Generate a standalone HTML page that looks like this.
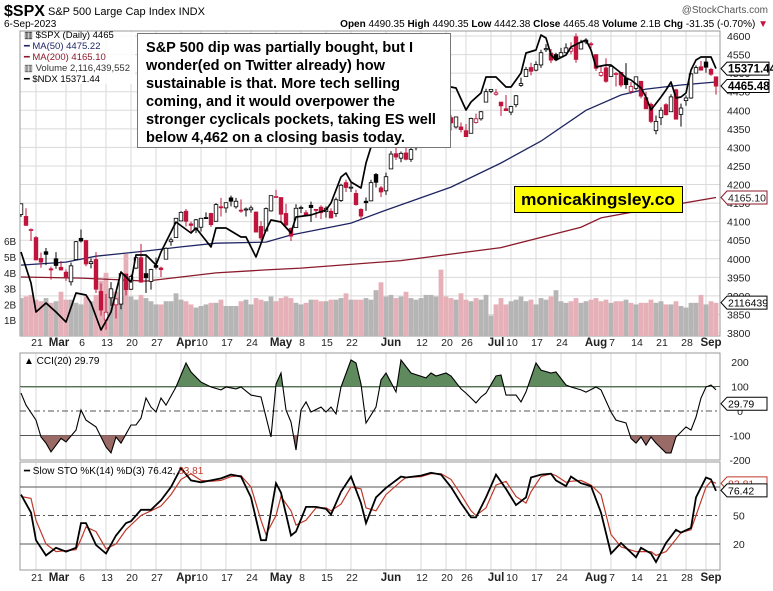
<!DOCTYPE html>
<html><head><meta charset="utf-8"><style>
body{margin:0;background:#fff;}
svg text{font-family:"Liberation Sans",Arial,sans-serif;}
</style></head><body>
<svg id="chart" width="773" height="586" viewBox="0 0 773 586" xmlns="http://www.w3.org/2000/svg">
<defs>
<clipPath id="mainClip"><rect x="20" y="31" width="700" height="305"/></clipPath>
<clipPath id="cciClip"><rect x="20" y="353" width="700" height="107"/></clipPath>
<clipPath id="stoClip"><rect x="20" y="462" width="700" height="108"/></clipPath>
<clipPath id="cciUp"><rect x="20" y="353" width="700" height="34.5"/></clipPath>
<clipPath id="cciDn"><rect x="20" y="435.5" width="700" height="25"/></clipPath>
</defs>
<rect width="773" height="586" fill="#fff"/>
<g>
<text x="4" y="16" font-size="16" font-weight="bold">$SPX</text>
<text x="48" y="15" font-size="11">S&amp;P 500 Large Cap Index  INDX</text>
<text x="768" y="13" font-size="10" fill="#555" text-anchor="end">@StockCharts.com</text>
<text x="4" y="27" font-size="10">6-Sep-2023</text>
<text x="768" y="27" font-size="10" text-anchor="end"><tspan font-weight="bold">Open</tspan> 4490.35 <tspan font-weight="bold">High</tspan> 4490.35 <tspan font-weight="bold">Low</tspan> 4442.38 <tspan font-weight="bold">Close</tspan> 4465.48 <tspan font-weight="bold">Volume</tspan> 2.1B <tspan font-weight="bold">Chg</tspan> -31.35 (-0.70%) <tspan fill="#c0143c">▼</tspan></text>
</g>
<g id="grid"></g>
<g id="volume" clip-path="url(#mainClip)"></g>
<g id="priceLines" clip-path="url(#mainClip)"></g>
<g id="candles" clip-path="url(#mainClip)"></g>
<g id="ndxLine" clip-path="url(#mainClip)"></g>
<g id="cci"></g>
<g id="sto"></g>
<g id="axes"></g>
<g id="overlays"></g>
</svg>
<script>
const O=[4119,4114,4077,4057,4001,4019,3973,4000,3977,3964,3938,3998,4055,4049,3987,3998,3912,3835,3895,3876,3878,3959,3918,3975,4003,3960,3939,3982,3975,3999,4046,4057,4102,4128,4094,4081,4085,4111,4122,4101,4140,4137,4164,4140,4131,4133,4132,4126,4087,4075,4129,4166,4165,4122,4082,4084,4136,4124,4144,4133,4139,4127,4128,4122,4157,4205,4191,4176,4133,4155,4156,4227,4191,4183,4242,4283,4271,4285,4268,4305,4308,4345,4367,4365,4437,4398,4380,4355,4355,4345,4338,4367,4377,4422,4451,4443,4422,4404,4395,4415,4467,4491,4515,4508,4522,4563,4554,4550,4544,4555,4559,4598,4565,4584,4579,4550,4494,4514,4491,4498,4502,4487,4451,4459,4478,4434,4416,4345,4380,4415,4396,4455,4389,4426,4433,4500,4517,4530,4510,4490];
const H=[4148,4136,4082,4061,4017,4029,3979,4018,3994,3971,3990,4048,4079,4051,4001,4018,3934,3905,3937,3894,3965,3959,3957,4009,4040,4007,3973,4003,3979,4031,4057,4110,4128,4134,4100,4107,4110,4125,4124,4150,4164,4151,4170,4164,4160,4138,4143,4127,4101,4138,4170,4186,4165,4148,4084,4147,4143,4131,4154,4133,4144,4141,4136,4165,4202,4213,4210,4186,4136,4165,4213,4231,4196,4232,4290,4299,4289,4300,4298,4322,4339,4375,4391,4439,4448,4407,4387,4382,4367,4363,4380,4391,4398,4458,4456,4457,4422,4441,4412,4441,4488,4517,4528,4532,4563,4578,4565,4555,4568,4580,4583,4607,4590,4594,4584,4550,4520,4540,4519,4503,4503,4527,4476,4490,4478,4450,4421,4386,4408,4419,4443,4458,4418,4440,4500,4521,4533,4541,4514,4490];
const L=[4113,4089,4048,3996,3976,3983,3944,3973,3968,3940,3928,3998,4044,3980,3974,3908,3847,3809,3873,3839,3864,3901,3916,3972,3936,3908,3917,3971,3951,3999,4035,4057,4102,4087,4073,4069,4073,4107,4086,4100,4114,4124,4141,4135,4124,4114,4124,4072,4050,4075,4127,4164,4098,4088,4048,4084,4123,4116,4099,4110,4107,4111,4109,4113,4153,4180,4180,4143,4105,4129,4155,4192,4166,4172,4242,4266,4260,4265,4261,4292,4305,4338,4351,4363,4408,4381,4345,4351,4340,4328,4338,4364,4372,4422,4446,4439,4385,4398,4387,4408,4463,4491,4494,4505,4514,4557,4527,4532,4542,4553,4551,4528,4564,4578,4567,4506,4490,4474,4491,4464,4462,4458,4444,4454,4432,4404,4365,4335,4360,4386,4396,4375,4356,4412,4431,4500,4507,4501,4493,4442];
const C=[4148,4090,4079,3997,3991,4012,3970,3982,3970,3951,3981,4046,4048,3986,3992,3918,3862,3856,3919,3892,3960,3917,3952,4003,3937,3949,3971,3977,3971,4028,4051,4109,4125,4101,4090,4105,4109,4109,4092,4146,4138,4151,4155,4155,4130,4134,4137,4072,4056,4135,4170,4168,4120,4091,4061,4136,4138,4119,4138,4131,4124,4136,4110,4159,4198,4192,4193,4146,4115,4151,4205,4206,4180,4221,4282,4274,4284,4268,4294,4299,4339,4369,4373,4426,4410,4389,4366,4382,4348,4329,4378,4377,4396,4450,4456,4447,4412,4399,4410,4439,4472,4510,4505,4523,4555,4566,4535,4536,4555,4568,4567,4537,4582,4589,4577,4513,4502,4478,4518,4499,4468,4469,4464,4490,4438,4404,4370,4370,4400,4388,4436,4376,4406,4433,4498,4515,4508,4516,4497,4465];
const VOL=[2.4,2.5,2.6,2.3,2.2,2.4,2.1,2.2,2.8,2.3,
2.3,2.1,2.0,2.5,2.2,2.6,3.5,4.0,2.8,2.8,
2.6,5.2,2.5,2.3,2.6,2.4,2.2,2.0,2.0,2.2,
2.2,2.7,2.3,2.2,2.0,1.8,1.9,2.0,2.1,2.1,
2.3,1.9,1.9,1.9,2.2,2.3,2.0,2.4,2.3,2.2,
2.5,2.2,2.4,2.5,2.4,2.1,2.0,2.1,2.3,2.3,
2.2,2.2,2.3,2.3,2.4,2.7,2.3,2.3,2.3,2.4,
2.3,2.9,3.4,2.5,2.6,2.4,2.5,2.8,2.4,2.3,
2.4,2.6,2.6,2.5,4.2,2.5,2.4,2.3,2.7,2.3,
2.2,2.4,2.3,2.6,1.3,2.0,2.4,2.0,2.2,2.3,
2.5,2.2,2.3,2.0,2.4,2.3,2.5,2.9,2.2,2.1,
2.2,2.4,2.1,2.2,2.3,2.4,2.2,2.3,2.1,2.2,
2.2,2.3,2.1,2.0,2.1,2.1,2.3,2.1,2.2,2.0,
2.0,2.2,1.9,1.8,2.1,2.1,2.6,2.0,2.2,2.1];
const ma50Idx=[0,9,15,25,32,39,49,54,66,73,86,96,104,113,120,125,132,139];
const ma50Val=[3983,3991,4007,4021,4032,4042,4045,4064,4096,4131,4193,4258,4317,4400,4441,4457,4468,4476];
const ma200Idx=[0,12,20,25,32,39,49,56,76,96,112,116,126,139];
const ma200Val=[3951,3948,3943,3940,3951,3962,3970,3975,3995,4030,4085,4110,4135,4165];
const ndxIdx=[0,2,3,5,7,9,11,13,14,16,18,20,22,23,25,27,28,31,34,35,38,39,41,44,45,47,49,50,52,54,55,58,61,62,64,65,66,68,69,70,72,74,76,78,80,82,84,86,87,89,90,92,93,95,97,98,100,101,103,104,105,106,107,109,110,112,113,114,115,117,118,120,121,122,124,125,126,128,129,130,131,132,133,134,135,136,138,139];
const ndxVal=[12886,12466,12073,12195,12073,11938,12331,12304,12195,11829,12073,12615,12480,12845,12845,12710,12886,13293,13144,13211,12954,13211,13211,13089,13089,12818,13184,13320,13293,13144,13360,13387,13455,13550,13902,13956,13835,13753,14092,14309,14404,14607,14675,14783,14946,15081,15190,15122,15108,14810,14919,15040,15257,15257,15122,15122,15312,15583,15623,15826,15786,15555,15488,15555,15664,15732,15759,15623,15393,15420,15420,15312,15244,15217,15108,14986,14810,14986,15081,15190,14973,14986,15040,15352,15488,15528,15528,15371];
const cciIdx=[0,1,3,4,5,6,8,9,11,12,13,15,17,18,19,20,22,23,24,25,26,27,28,29,31,32,33,34,36,38,40,41,43,44,46,48,50,51,52,53,54,55,56,57,58,60,61,62,63,64,66,67,68,69,71,72,73,75,76,78,81,82,83,85,86,88,89,91,92,93,95,96,97,99,100,101,103,104,106,107,109,110,112,113,115,116,118,119,121,122,123,124,125,126,127,129,130,131,133,134,135,136,137,138,139];
const cciVal=[73,24,-37,-106,-131,-167,-112,-126,-78,4,-37,-65,-147,-171,-106,-131,-57,-57,-29,53,16,-4,53,24,98,147,196,159,118,98,86,98,90,98,65,57,-106,110,155,4,-45,-159,4,37,-4,16,-4,16,-12,98,208,196,110,-49,16,127,155,78,208,155,135,155,143,155,143,90,73,33,57,73,143,147,65,65,37,78,196,167,155,159,106,98,86,77,98,86,-4,-37,-49,-112,-131,-106,-139,-106,-131,-171,-171,-106,-65,-78,-25,53,98,106,86,30];
const stoIdx=[0,2,3,5,7,9,11,12,13,15,17,19,21,22,24,26,28,30,32,34,36,38,40,42,44,46,48,49,51,52,54,55,57,59,61,62,64,66,68,69,71,73,76,77,80,82,84,86,88,90,91,93,95,97,99,101,102,104,106,107,109,110,112,114,116,118,120,123,124,126,127,129,131,132,134,135,137,138,139];
const stoK=[72,53,24,8,16,12,16,42,42,19,10,29,42,44,56,56,66,80,100,87,85,87,89,93,91,69,24,24,84,74,29,33,59,59,57,51,75,91,63,42,69,79,91,90,92,95,93,80,63,48,48,69,93,78,61,69,90,93,94,87,81,91,84,81,53,10,21,6,16,10,1,21,35,32,37,69,90,88,76];
const stoD=[70,68,45,20,12,13,14,25,38,33,15,20,35,40,50,55,60,72,88,94,87,86,87,91,92,80,45,30,50,70,55,40,45,58,58,55,62,80,78,58,55,72,86,90,91,94,94,88,72,55,50,58,82,86,70,63,75,91,94,92,85,86,87,82,72,30,17,12,12,12,8,12,25,32,35,50,80,86,84];
const tickLabels=["21","Mar","6","13","20","27","Apr","10","17","24","May","8","15","22","Jun","12","20","26","Jul","10","17","24","Aug","7","14","21","28","Sep"];
const tickIdx=[3,9,12,17,22,27,32,36,41,46,51,56,61,66,73,80,85,89,94,98,103,108,114,118,123,128,133,137];
const priceTicks=[4600,4550,4500,4450,4400,4350,4300,4250,4200,4150,4100,4050,4000,3950,3900,3850,3800];
const volTicks=[6,5,4,3,2,1];
const cciTicks=[200,100,0,-100,-200];

const NS="http://www.w3.org/2000/svg";
function mk(tag,attrs,parent){const e=document.createElementNS(NS,tag);for(const k in attrs)e.setAttribute(k,attrs[k]);parent.appendChild(e);return e;}
function px(i){return 21+5*i;}
function py(p){return 36+(4600-p)*0.3713;}
function vy(v){return 336-v*15.8;}
function ny(n){return 34+(15840-n)*0.0738;}
function cy(v){return 411-v*0.245;}
function sy(v){return 563-v*0.95;}
const RED="#c0143c";

const grid=document.getElementById('grid');
// panel backgrounds & grid
[[31,336],[353,460],[462,570]].forEach(function(p){
  tickIdx.forEach(function(ti){
    const l=mk('line',{x1:px(ti),x2:px(ti),y1:p[0],y2:p[1],stroke:'#dadada','stroke-width':1},grid);
    
    
  });
});
priceTicks.forEach(function(t){
  const l=mk('line',{x1:20,x2:720,y1:py(t),y2:py(t),stroke:'#dadada','stroke-width':1},grid);
  
  
});
[[31,305],[353,107],[462,108]].forEach(function(p){
  const r=mk('rect',{x:20,y:p[0],width:700,height:p[1],fill:'none',stroke:'#999','stroke-width':1},grid);
  
  
});

// volume
const vg=document.getElementById('volume');
VOL.forEach(function(v,i){
  const down=i>0&&C[i]<C[i-1];
  const r=mk('rect',{x:px(i)-2.4,y:vy(v),width:4.8,height:336-vy(v),fill:down?'#e6b0b9':'#b5b5b5'},vg);
  
  
});

function poly(idx,vals,fx,fy){return idx.map(function(ii,k){return fx(ii).toFixed(1)+','+fy(vals[k]).toFixed(1);}).join(' ');}
const pl=document.getElementById('priceLines');
const m2=mk('polyline',{points:poly(ma200Idx,ma200Val,px,py),fill:'none',stroke:'#8b1a2b','stroke-width':1.3},pl);


const m5=mk('polyline',{points:poly(ma50Idx,ma50Val,px,py),fill:'none',stroke:'#1f2563','stroke-width':1.3},pl);



// candles
const cg=document.getElementById('candles');
C.forEach(function(c,i){
  const o=O[i];
  const col=(i>0&&c<C[i-1])?RED:'#000';
  const w=mk('line',{x1:px(i),x2:px(i),y1:py(H[i]),y2:py(L[i]),stroke:col,'stroke-width':1},cg);
  
  
  const top=py(Math.max(o,c)),bot=py(Math.min(o,c));
  const b=mk('rect',{x:px(i)-1.8,y:top,width:3.6,height:Math.max(1,bot-top),fill:c>=o?'#fff':col,stroke:col,'stroke-width':0.8},cg);
  
  
});
const ng=document.getElementById('ndxLine');
const nl=mk('polyline',{points:poly(ndxIdx,ndxVal,px,ny),fill:'none',stroke:'#000','stroke-width':1.7,'stroke-linejoin':'round'},ng);



// CCI
const cg2=document.getElementById('cci');
[[100,'none'],[-100,'none'],[0,'6,3,2,3']].forEach(function(a){
  const l=mk('line',{x1:20,x2:720,y1:cy(a[0]),y2:cy(a[0]),stroke:'#555','stroke-width':1,'stroke-dasharray':a[1]},cg2);
  
  
});
const cpts=poly(cciIdx,cciVal,px,cy);
const fu=mk('polygon',{points:px(cciIdx[0])+','+cy(100)+' '+cpts+' '+px(cciIdx[cciIdx.length-1])+','+cy(100),fill:'#5e8a5e','clip-path':'url(#cciUp)'},cg2);


const fd=mk('polygon',{points:px(cciIdx[0])+','+cy(-100)+' '+cpts+' '+px(cciIdx[cciIdx.length-1])+','+cy(-100),fill:'#9a6a66','clip-path':'url(#cciDn)'},cg2);


const cl=mk('polyline',{points:cpts,fill:'none',stroke:'#000','stroke-width':1.1,'clip-path':'url(#cciClip)'},cg2);



// STO
const sg=document.getElementById('sto');
[[80,'none'],[20,'none'],[50,'6,3,2,3']].forEach(function(a){
  const l=mk('line',{x1:20,x2:720,y1:sy(a[0]),y2:sy(a[0]),stroke:'#555','stroke-width':1,'stroke-dasharray':a[1]},sg);
  
  
});
const dl=mk('polyline',{points:poly(stoIdx,stoD,px,sy),fill:'none',stroke:'#c0392b','stroke-width':1.2,'clip-path':'url(#stoClip)'},sg);


const kl=mk('polyline',{points:poly(stoIdx,stoK,px,sy),fill:'none',stroke:'#000','stroke-width':1.8,'clip-path':'url(#stoClip)'},sg);



// axes
const ax=document.getElementById('axes');
priceTicks.forEach(function(t){
  const tx=mk('text',{x:727,y:py(t)+4,'font-size':10.5,fill:'#222'},ax);
  tx.textContent=t;
  
  
});
volTicks.forEach(function(t){
  const tx=mk('text',{x:4,y:vy(t)+4,'font-size':10,fill:'#222'},ax);
  tx.textContent=t+'B';
  
  
});
cciTicks.forEach(function(t){
  const tx=mk('text',{x:740,y:cy(t)+4,'font-size':10.5,fill:'#222','text-anchor':'middle'},ax);
  tx.textContent=t;
  
  
});
[50,20].forEach(function(t){
  const tx=mk('text',{x:733,y:sy(t)+4,'font-size':10.5,fill:'#222'},ax);
  tx.textContent=t;
  
  
});
[346,581].forEach(function(yy){
  tickLabels.forEach(function(lb,k){
    const isM=isNaN(+lb);
    let x=px(tickIdx[k])+(isM?5:1);
    if(lb==='Mar')x=px(tickIdx[k])-7;
    const tx=mk('text',{x:x,y:yy,'font-size':isM?11.5:10.5,'font-weight':isM?'bold':'normal','text-anchor':'middle',fill:'#222'},ax);
    tx.textContent=lb;
    
    
  });
});

// value tags
const ov=document.getElementById('overlays');
function tag(y,txt,stroke,bold,color,name){
  const g=mk('g',{},ov);
  
  
  const w=bold?42:40;
  mk('polygon',{points:[721+','+y,(727)+','+(y-6.5),(727+w)+','+(y-6.5),(727+w)+','+(y+6.5),727+','+(y+6.5)].join(' '),fill:'#fff',stroke:stroke,'stroke-width':1},g);
  const t=mk('text',{x:728,y:y+4,'font-size':bold?11.5:10.5,'font-weight':bold?'bold':'normal',fill:color},g);
  t.textContent=txt;
}
tag(ny(15371),'15371.44','#000',true,'#000','ndx-value-tag');
tag(py(4465.48),'4465.48','#000',true,'#000','close-value-tag');
tag(py(4165.10),'4165.10','#8b1a2b',false,'#222','ma200-value-tag');
tag(vy(2.116),'2116439','#000',false,'#000','volume-value-tag');
tag(cy(29.79),'29.79','#000',false,'#000','cci-value-tag');
tag(sy(83.81),'83.81','#c0392b',false,'#c0392b','sto-d-value-tag');
tag(sy(76.42),'76.42','#000',false,'#000','sto-k-value-tag');
</script>
<svg style="position:absolute;left:0;top:0" width="773" height="586">
<g font-family="Liberation Sans, Arial, sans-serif">
<g font-size="9.5">
<rect x="21" y="32" width="114" height="52" fill="#fff" opacity="0.85"/>
<text x="24" y="38">▥ $SPX (Daily) 4465</text>
<text x="24" y="49" fill="#1f2563">━ MA(50) 4475.22</text>
<text x="24" y="60" fill="#8b1a2b">━ MA(200) 4165.10</text>
<text x="24" y="71" fill="#333">▥ Volume 2,116,439,552</text>
<text x="24" y="82">━ $NDX 15371.44</text>
</g>
<g>
<rect x="137.5" y="33.5" width="313" height="114" fill="#fff" stroke="#777" stroke-width="1"/>
<g font-size="15" font-weight="bold">
<text x="146" y="52" textLength="267" lengthAdjust="spacingAndGlyphs">S&amp;P 500 dip was partially bought, but I</text>
<text x="146" y="70" textLength="239" lengthAdjust="spacingAndGlyphs">wonder(ed on Twitter already) how</text>
<text x="146" y="88" textLength="254" lengthAdjust="spacingAndGlyphs">sustainable is that. More tech selling</text>
<text x="146" y="106" textLength="249" lengthAdjust="spacingAndGlyphs">coming, and it would overpower the</text>
<text x="146" y="124" textLength="290" lengthAdjust="spacingAndGlyphs">stronger cyclicals pockets, taking ES well</text>
<text x="146" y="142" textLength="259" lengthAdjust="spacingAndGlyphs">below 4,462 on a closing basis today.</text>
</g>
</g>
<g>
<rect x="514.5" y="186.5" width="168" height="26" fill="#ffff00" stroke="#000" stroke-width="1"/>
<text x="598" y="205" font-size="17" font-weight="bold" text-anchor="middle" textLength="154" lengthAdjust="spacingAndGlyphs">monicakingsley.co</text>
</g>
<text x="24" y="364" font-size="10">▲ CCI(20) 29.79</text>
<text x="24" y="474" font-size="10">━ Slow STO %K(14) %D(3) 76.42, <tspan fill="#c0392b">83.81</tspan></text>
</g>
</svg>
</body></html>
